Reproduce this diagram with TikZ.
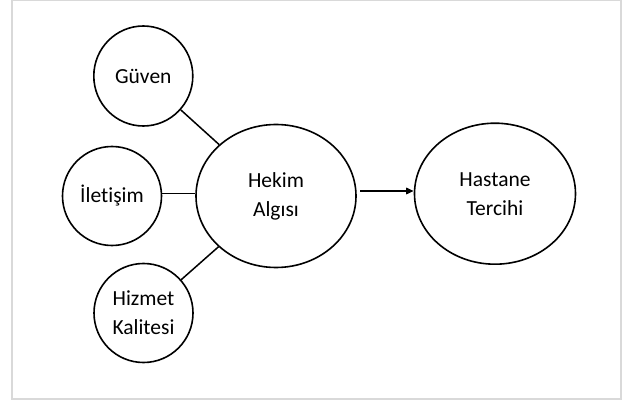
\documentclass[tikz,border=0pt]{standalone}
\usepackage{fontspec}
\setmainfont{Carlito}[Ligatures={NoCommon}]
\usetikzlibrary{shapes.geometric,arrows.meta}
\begin{document}
\begin{tikzpicture}[x=1pt,y=-1pt,
  bubble/.style={draw=black,line width=1.6pt,ellipse,inner sep=0pt,align=center,
    text=black,font=\fontsize{21.5}{29}\selectfont},
  link/.style={draw=black,line width=1.5pt},
  flow/.style={draw=black,line width=1.6pt,-{Triangle[length=7.5pt,width=6.5pt]}}]
\useasboundingbox (0,0) rectangle (622,401);
\draw[color=black!15,line width=1.6pt] (11.9,0.6) rectangle (621,399.2);
\node[bubble,minimum width=99pt,minimum height=100pt] (g) at (143.3,76) {Güven};
\node[bubble,minimum width=99pt,minimum height=99pt] (i) at (112,196) {İletişim};
\node[bubble,minimum width=99pt,minimum height=99pt] (k) at (143.5,313) {Hizmet\\Kalitesi};
\node[bubble,minimum width=160pt,minimum height=143pt] (h) at (276,196) {Hekim\\Algısı};
\node[bubble,minimum width=161pt,minimum height=141pt] (t) at (495,193.7) {Hastane\\Tercihi};
\draw[link] (g) -- (h);
\draw[link] ([yshift=2.3pt]i.east) -- ([yshift=2.3pt]h.west);
\draw[link] (k) -- (h);
\coordinate (a) at ([xshift=3.3pt,yshift=5pt]h.east);
\draw[flow] (a) -- (a -| t.west);
\end{tikzpicture}
\end{document}
